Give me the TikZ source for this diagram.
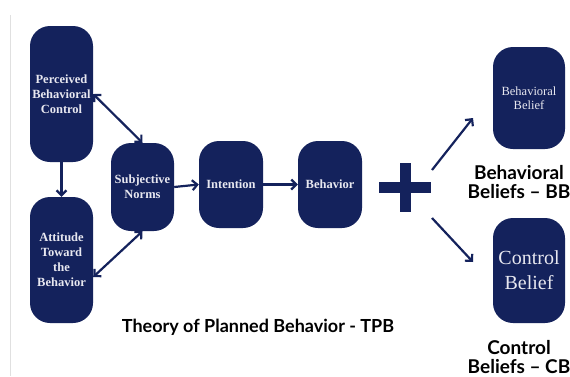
\documentclass[tikz,border=0pt]{standalone}
\usepackage{fontspec}
\usetikzlibrary{arrows.meta,calc}
\newfontfamily\boxfont{Liberation Serif}
\newfontfamily\labfont{Lato}
\definecolor{navy}{RGB}{20,34,92}
\definecolor{boxtext}{RGB}{232,232,240}
\begin{document}
\begin{tikzpicture}[x=1pt,y=-1pt,
  box/.style={fill=navy,rounded corners=20pt,inner sep=0pt,align=center,
    text=boxtext,font=\boxfont\bfseries\fontsize{12.5}{15}\selectfont},
  conn/.style={draw=navy,line width=2.2pt,-{Straight Barb[length=5pt,width=10pt]}},
  biconn/.style={draw=navy,line width=2.2pt,{Straight Barb[length=5pt,width=10pt]}-{Straight Barb[length=5pt,width=10pt]}},
  lab/.style={font=\labfont\bfseries\fontsize{18}{19}\selectfont,align=center,text=black},
  blab/.style={lab,font=\labfont\bfseries\fontsize{19}{19}\selectfont}]
\useasboundingbox (0,0) rectangle (570,376);
\fill[white] (0,0) rectangle (570,376);
\draw[black!12,line width=0.8pt] (10,15) -- (10,376);
\node[box,minimum width=63pt,minimum height=136pt] (pbc) at (61.5,94) {Perceived\\Behavioral\\Control};
\node[box,minimum width=63pt,minimum height=126pt] (att) at (61.5,260) {Attitude\\Toward\\the\\Behavior};
\node[box,minimum width=63pt,minimum height=88pt] (sn) at (142.5,187) {Subjective\\Norms};
\node[box,minimum width=64pt,minimum height=87pt] (int) at (231,184.5) {Intention};
\node[box,minimum width=64pt,minimum height=87pt] (beh) at (330,184.5) {Behavior};
\node[box,minimum width=72pt,minimum height=102pt,font=\boxfont\fontsize{12.5}{14}\selectfont] (bb) at (529,98) {Behavioral\\Belief};
\node[box,minimum width=72pt,minimum height=105pt,font=\boxfont\fontsize{20}{25}\selectfont] (cb) at (529,270.5) {Control\\Belief};
\node[fill=navy,minimum width=52pt,minimum height=11pt,inner sep=0pt] (plush) at (405,187) {};
\node[fill=navy,minimum width=11pt,minimum height=49pt,inner sep=0pt] (plusv) at (405,187) {};
\coordinate (p1) at (432,170);
\coordinate (p2) at (432,218);
\coordinate (bbend) at (473,118);
\coordinate (cbend) at (473,262);
\draw[conn] (pbc.south) -- (att.north);
\draw[biconn] (pbc.east) -- (sn.north);
\draw[biconn] ($(att.east)+(0,17)$) -- (sn.south);
\draw[conn] (sn.east) -- (int.west);
\draw[conn] (int.east) -- (beh.west);
\draw[conn] (p1) -- (bbend);
\draw[conn] (p2) -- (cbend);
\node[blab] (bbl) at (519,182.5) {Behavioral\\Beliefs – BB};
\node[blab] (cbl) at (519,357) {Control\\Beliefs – CB};
\node[lab] (title) at (258,327) {Theory of Planned Behavior - TPB};
\end{tikzpicture}
\end{document}
